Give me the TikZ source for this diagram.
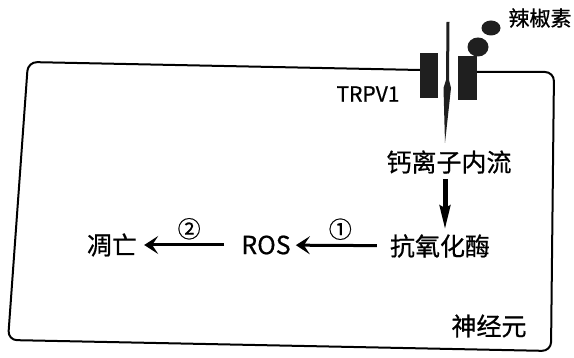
\documentclass[tikz,border=0pt]{standalone}
\usepackage{fontspec}
\setmainfont{Noto Sans CJK SC}[FakeBold=0.7, AutoFakeBold=0.7]
\usepackage{tikz}
\usetikzlibrary{
    arrows.meta,
    calc,
    positioning
}

\begin{document}
\begin{tikzpicture}[x=1pt, y=-1pt, line join=round,
                        lbl/.style={inner sep=1pt, font=\fontsize{25}{25}\selectfont\bfseries},
                        num/.style={inner sep=1pt, font=\fontsize{23}{23}\selectfont\bfseries},
                        flow/.style={-{Stealth[length=14pt, width=18pt, inset=6pt]}, line width=3pt},
                        down/.style={-{Stealth[length=24pt, width=10pt, inset=2pt]}, line width=5pt}]
                        \useasboundingbox (0, 0) rectangle (574, 358);

                        % membrane
                        \draw[line width=2pt, rounded corners=9pt]
                        (420, 70) -- (28, 62) -- (8, 340) -- (551, 351) -- (554, 72) -- (477, 72);

                        % channel and capsaicin
                        \fill[black!88] (420, 53) rectangle (438, 98);
                        \fill[black!88] (458, 56) rectangle (477, 100);
                        \fill[black!88] (446.5, 22) -- (449.5, 22) -- (449, 80) -- (451, 88) -- (445, 143)
                        -- (443.5, 88) -- (446, 80) -- cycle;
                        \coordinate (tip) at (445, 143);
                        \fill[black!88] (491, 28) ellipse (9.5 and 7.5);
                        \fill[black!88] (478, 47) ellipse (10.5 and 9.5);

                        \node[inner sep=1pt, font=\fontsize{21}{21}\selectfont\bfseries] (cap) at (540, 18) {辣椒素};
                        \node[inner sep=1pt, font=\fontsize{21}{21}\selectfont\bfseries] (trpv) at (368, 94) {TRPV1};
                        \node[lbl] (ca) at (449, 162) {钙离子内流};
                        \node[lbl] (enz) at (440, 246) {抗氧化酶};
                        \node[lbl] (ros) at (266, 245) {ROS};
                        \node[lbl] (apop) at (112, 245) {凋亡};
                        \node[lbl] (cell) at (489, 326) {神经元};

                        \draw[down] (ca.south -| tip) ++(0, 4) -- ($(enz.north -| tip) + (0, -3)$);
                        \draw
                        (enz) edge[flow, shorten <=12pt, shorten >=4pt] node[num, above=3pt]{①} (ros)
                        (ros) edge[flow, shorten <=16pt, shorten >=6pt] node[num, above=3pt]{②} (apop);
                    \end{tikzpicture}
\end{document}
